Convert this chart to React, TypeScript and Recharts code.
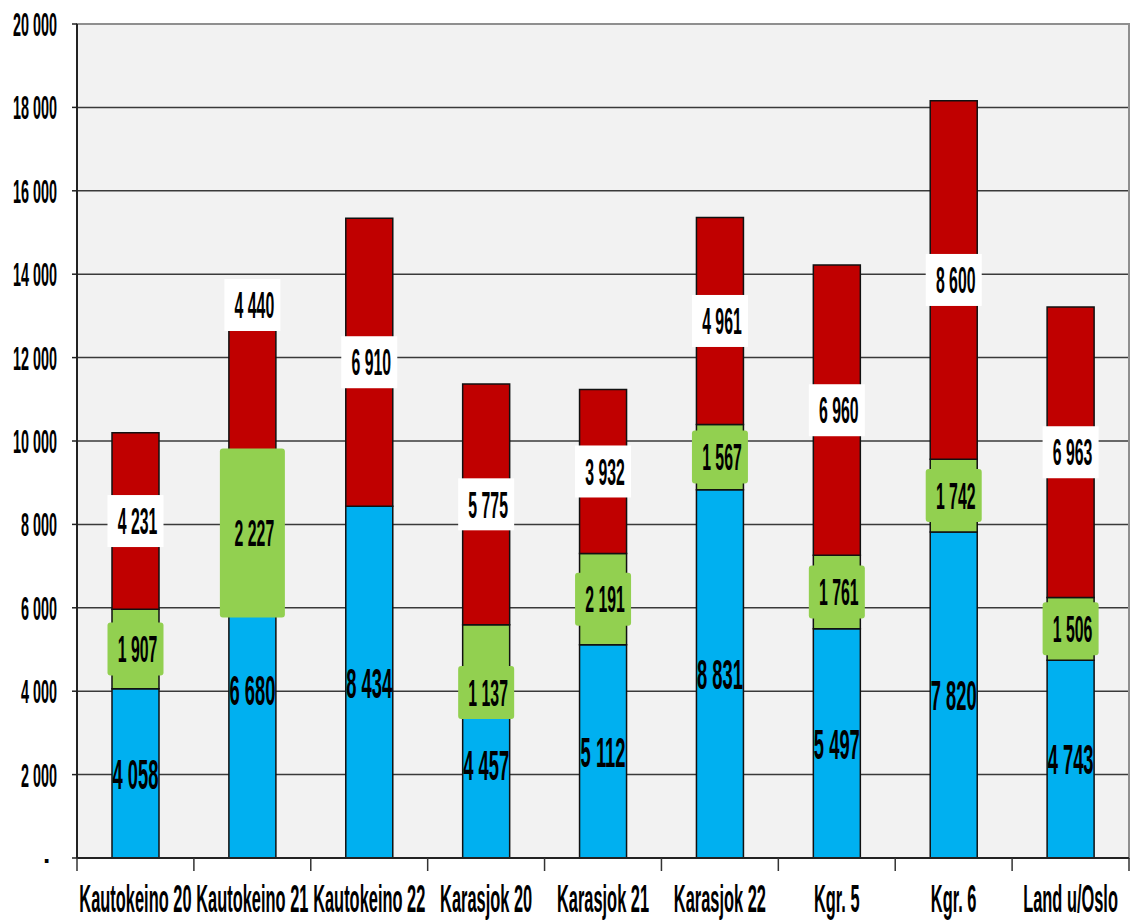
import { Bar, BarChart, CartesianGrid, LabelList, ReferenceArea, XAxis, YAxis } from 'recharts'

const categories = [
  'Kautokeino 20',
  'Kautokeino 21',
  'Kautokeino 22',
  'Karasjok 20',
  'Karasjok 21',
  'Karasjok 22',
  'Kgr. 5',
  'Kgr. 6',
  'Land u/Oslo',
]
const blueValues = [4058, 6680, 8434, 4457, 5112, 8831, 5497, 7820, 4743]
const greenValues = [1907, 2227, null, 1137, 2191, 1567, 1761, 1742, 1506]
const redValues = [4231, 4440, 6910, 5775, 3932, 4961, 6960, 8600, 6963]
const yTicks = [0, 2000, 4000, 6000, 8000, 10000, 12000, 14000, 16000, 18000, 20000]

const data = categories.map((name, i) => ({
  name,
  blue: blueValues[i],
  green: greenValues[i],
  red: redValues[i],
}))

const SERIES_VALUES = { blue: blueValues, green: greenValues, red: redValues }

// the source picture is squashed sideways, so text is drawn stretched
const SX = 0.72
const SY = 1.68
const FONT = '"Liberation Sans", Arial, sans-serif'

// labels that were dragged by hand in the original
const LABEL_NUDGE: Record<string, number> = {
  'blue:Kautokeino 21': -29,
  'red:Kautokeino 21': -89,
  'green:Karasjok 20': 44,
}
const GREEN_BOX: Record<string, { w: number; h: number }> = {
  'Kautokeino 21': { w: 65, h: 169 },
}

const fmt = (v: number) => (v === 0 ? '-' : String(v).replace(/\B(?=(\d{3})+(?!\d))/g, ' '))

function StretchText({
  x,
  y,
  size,
  anchor = 'middle',
  children,
}: {
  x: number
  y: number
  size: number
  anchor?: 'start' | 'middle' | 'end'
  children: string
}) {
  // y is the vertical centre of the digits
  return (
    <text
      transform={`translate(${x},${y}) scale(${SX},${SY})`}
      y={0.358 * size}
      textAnchor={anchor}
      fontSize={size}
      fontWeight="bold"
      fontFamily={FONT}
      fill="#000"
    >
      {children}
    </text>
  )
}

function segmentLabel(series: 'blue' | 'green' | 'red') {
  return (props: any) => {
    const { x, y, width, height, value } = props
    if (value == null || value === 0) return null
    // LabelList skips empty entries, so look the category up by value
    const name = categories[SERIES_VALUES[series].indexOf(Number(value))]
    const cx = Number(x) + Number(width) / 2
    const cy = Number(y) + Number(height) / 2 + (LABEL_NUDGE[`${series}:${name}`] ?? 0)
    if (series === 'blue') {
      return <StretchText x={cx} y={cy} size={25.5}>{fmt(value)}</StretchText>
    }
    if (series === 'green') {
      const box = GREEN_BOX[name] ?? { w: 56, h: 53 }
      return (
        <g>
          <rect x={cx - box.w / 2} y={cy - box.h / 2} width={box.w} height={box.h} rx={3} fill="#92d050" />
          <StretchText x={cx + 2} y={cy} size={22}>{fmt(value)}</StretchText>
        </g>
      )
    }
    return (
      <g>
        <rect x={cx - 28} y={cy - 26} width={56} height={52} fill="#fff" />
        <StretchText x={cx + 2} y={cy} size={22}>{fmt(value)}</StretchText>
      </g>
    )
  }
}

function YTick(props: any) {
  const { x, y, payload } = props
  // accounting format pads the dash for zero
  const pad = payload.value === 0 ? 8 : 0
  return (
    <StretchText x={x - pad} y={y} size={20} anchor="end">
      {fmt(payload.value)}
    </StretchText>
  )
}

function XTick(props: any) {
  const { x, y, payload, index } = props
  const half = payload.offset ?? 1052 / categories.length / 2
  return (
    <g>
      <line x1={x - half} x2={x - half} y1={y} y2={y + 13} stroke="#333" strokeWidth={1.5} />
      {index === categories.length - 1 && (
        <line x1={x + half} x2={x + half} y1={y} y2={y + 13} stroke="#333" strokeWidth={1.5} />
      )}
      <StretchText x={x} y={y + 40} size={22.8}>
        {payload.value}
      </StretchText>
    </g>
  )
}

export default function App() {
  return (
    <div style={{ position: 'absolute', left: 0, top: 0, width: 1132, height: 922, background: '#fff' }}>
      <BarChart
        width={1132}
        height={922}
        data={data}
        margin={{ top: 24, right: 3, left: 0, bottom: 0 }}
        barSize={47}
      >
        <CartesianGrid vertical={false} fill="#f2f2f2" stroke="#3a3a3a" strokeWidth={1.5} />
        <ReferenceArea y1={0} y2={20000} fill="none" stroke="#8f8f8f" strokeWidth={2} />
        <XAxis
          dataKey="name"
          height={64}
          tickLine={false}
          tickSize={0}
          tickMargin={0}
          interval={0}
          axisLine={{ stroke: '#222', strokeWidth: 2 }}
          tick={XTick}
        />
        <YAxis
          width={77}
          domain={[0, 20000]}
          ticks={yTicks}
          interval={0}
          tickSize={5}
          tickMargin={15}
          tickLine={{ stroke: '#222', strokeWidth: 1.5 }}
          axisLine={{ stroke: '#222', strokeWidth: 2 }}
          tick={YTick}
        />
        <Bar dataKey="blue" stackId="a" fill="#00b0f0" stroke="#111" strokeWidth={1.5} isAnimationActive={false}>
          <LabelList dataKey="blue" content={segmentLabel('blue')} />
        </Bar>
        <Bar dataKey="green" stackId="a" fill="#92d050" stroke="#111" strokeWidth={1.5} isAnimationActive={false}>
          <LabelList dataKey="green" content={segmentLabel('green')} />
        </Bar>
        <Bar dataKey="red" stackId="a" fill="#c00000" stroke="#111" strokeWidth={1.5} isAnimationActive={false}>
          <LabelList dataKey="red" content={segmentLabel('red')} />
        </Bar>
      </BarChart>
    </div>
  )
}
